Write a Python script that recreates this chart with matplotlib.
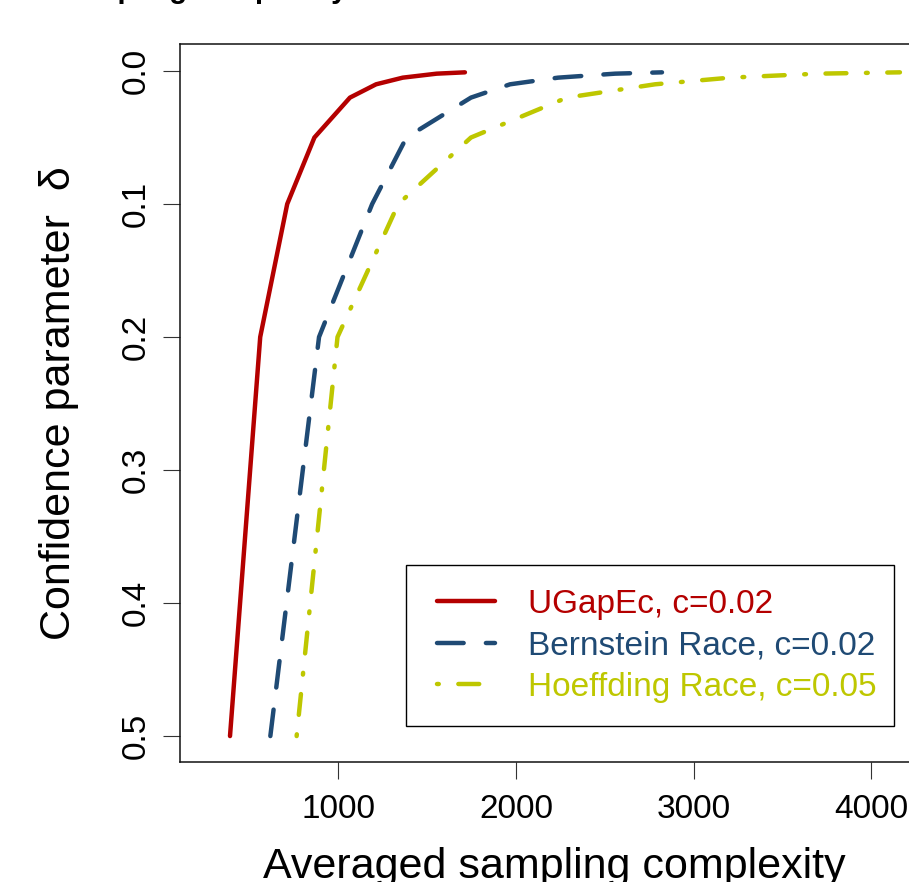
#!/usr/bin/env python3
"""
Sampling complexity vs confidence parameter for UGapEc and the racing baselines
"""

import matplotlib
matplotlib.use("Agg")
import matplotlib.pyplot as plt
from matplotlib.patches import Rectangle

# confidence levels used in the runs
delta = [0.5, 0.2, 0.1, 0.05, 0.02, 0.01, 0.005, 0.002, 0.001]

# averaged number of samples needed for each delta
ugapec = [390, 560, 712, 865, 1065, 1212, 1362, 1553, 1712]
bernstein = [617, 891, 1190, 1383, 1746, 1966, 2236, 2557, 2821]
hoeffding = [765, 995, 1337, 1746, 2286, 2782, 3204, 3700, 4160]

labels = ["UGapEc, c=0.02", "Bernstein Race, c=0.02", "Hoeffding Race, c=0.05"]
colors = ["#B40000", "#1F4A74", "#BEC700"]

x_ticks = [1000, 2000, 3000, 4000]
y_ticks = [0.0, 0.1, 0.2, 0.3, 0.4, 0.5]

W, H = 909, 882
FONT = "Liberation Sans"


def main():
    plt.rcParams["font.family"] = [FONT, "DejaVu Sans"]
    fig = plt.figure(figsize=(W / 100, H / 100), dpi=100)

    # plot region, the right part runs past the crop
    left, right, top, bottom = 180, 928, 44, 762
    ax = fig.add_axes([left / W, 1 - bottom / H, (right - left) / W, (bottom - top) / H])

    lw = 3.2
    ax.plot(ugapec, delta, color=colors[0], lw=lw, label=labels[0],
            solid_capstyle="round", solid_joinstyle="round")
    ax.plot(bernstein, delta, color=colors[1], lw=lw, label=labels[1],
            dashes=(6, 5), dash_capstyle="round", dash_joinstyle="round")
    ax.plot(hoeffding, delta, color=colors[2], lw=lw, label=labels[2],
            dashes=(0.4, 4.4, 4.7, 4.4), dash_capstyle="round", dash_joinstyle="round")

    ax.set_xlim(108.6, 4318)
    ax.set_ylim(0.5195, -0.0203)

    ax.set_xticks(x_ticks)
    ax.set_xticklabels([str(t) for t in x_ticks])
    ax.set_yticks(y_ticks)
    ax.set_yticklabels([f"{t:.1f}" for t in y_ticks], rotation=90, va="center")
    ax.tick_params(length=12.2, width=0.8, color="#333333", labelsize=24)
    ax.tick_params(axis="x", pad=11)
    ax.tick_params(axis="y", pad=8)

    for side in ["left", "bottom", "top", "right"]:
        ax.spines[side].set_linewidth(1.1)
        ax.spines[side].set_color("#111111")

    ax.set_xlabel("Averaged sampling complexity", fontsize=31)
    ax.xaxis.set_label_coords(0.5, -0.1184)
    ax.set_ylabel("Confidence parameter  δ", fontsize=31)
    ax.yaxis.set_label_coords(-0.135, 0.5)

    # title sits above the crop, only descenders show
    fig.text(56 / W, 1 + 2 / H, "Sampling complexity", fontsize=21, fontweight="bold",
             ha="left", va="baseline")

    # legend box drawn by hand to match the R layout
    box = Rectangle((406 / W, 1 - 726 / H), (894 - 406) / W, (726 - 565) / H,
                    transform=fig.transFigure, fill=False, edgecolor="black", lw=1.0)
    fig.patches.append(box)
    ax.legend(loc="upper left", bbox_to_anchor=(437 / W, 1 - 589 / H),
              bbox_transform=fig.transFigure, frameon=False, borderpad=0,
              borderaxespad=0, fontsize=24, handlelength=1.73, handletextpad=1.0,
              labelspacing=0.31, labelcolor="linecolor")

    fig.savefig("out.png", dpi=100)


if __name__ == "__main__":
    main()
